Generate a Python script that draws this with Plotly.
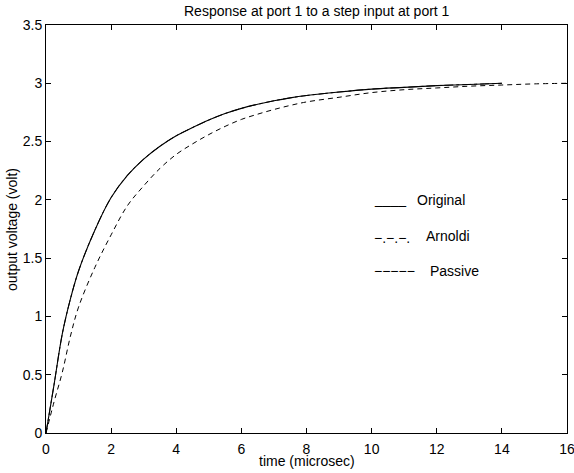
import plotly.graph_objects as go

# time axis (microsec)
t_orig = [0, 0.25, 0.5, 0.75, 1.0, 1.5, 2.0, 2.5, 3.0, 3.5, 4.0, 4.5, 5.0, 5.5, 6.0, 6.5,
          7.0, 7.5, 8.0, 9.0, 10.0, 11.0, 12.0, 13.0, 14.0]
v_orig = [0, 0.42, 0.85, 1.15, 1.39, 1.74, 2.02, 2.21, 2.35, 2.46, 2.55, 2.62, 2.685, 2.74, 2.785, 2.82,
          2.85, 2.875, 2.895, 2.925, 2.95, 2.965, 2.98, 2.99, 3.0]

t_arnoldi = t_orig
v_arnoldi = v_orig

t_passive = [0, 0.25, 0.5, 0.75, 1.0, 1.5, 2.0, 2.5, 3.0, 3.5, 4.0, 4.5, 5.0, 5.5, 6.0, 6.5,
             7.0, 7.5, 8.0, 9.0, 10.0, 11.0, 12.0, 13.0, 14.0, 15.0, 16.0]
v_passive = [0, 0.27, 0.52, 0.83, 1.08, 1.42, 1.70, 1.95, 2.12, 2.27, 2.39, 2.48, 2.56, 2.63, 2.69, 2.735,
             2.775, 2.81, 2.84, 2.88, 2.92, 2.945, 2.96, 2.975, 2.985, 2.995, 3.0]

x_ticks = [0, 2, 4, 6, 8, 10, 12, 14, 16]
y_ticks = [0, 0.5, 1, 1.5, 2, 2.5, 3, 3.5]

FONT = "Liberation Sans, Arial, sans-serif"
FS = 14

W, H = 574, 473
L, R, T, B = 46, 7, 25, 40
PW, PH = W - L - R, H - T - B


def px(x):  # page pixel -> paper
    return (x - L) / PW


def py(y):  # page pixel -> paper
    return (H - B - y) / PH


fig = go.Figure()
fig.add_trace(go.Scatter(x=t_arnoldi, y=v_arnoldi, mode="lines", name="Arnoldi",
                         line=dict(color="black", width=1, dash="dashdot", shape="spline")))
fig.add_trace(go.Scatter(x=t_passive, y=v_passive, mode="lines", name="Passive",
                         line=dict(color="black", width=1, dash="5px,4px", shape="spline")))
fig.add_trace(go.Scatter(x=t_orig, y=v_orig, mode="lines", name="Original",
                         line=dict(color="black", width=1.1, shape="spline")))

axis_common = dict(showgrid=False, zeroline=False, showline=True, linecolor="black",
                   linewidth=1, mirror="ticks", ticks="inside", ticklen=5,
                   tickcolor="black", tickwidth=1, ticklabeloverflow="allow",
                   automargin=False,
                   tickfont=dict(family=FONT, size=FS, color="black"))

fig.update_xaxes(range=[0, 16], tickvals=x_ticks, ticktext=[str(v) for v in x_ticks],
                 ticklabelstandoff=3, **axis_common)
fig.update_yaxes(range=[0, 3.5], tickvals=y_ticks, ticktext=[f"{v:g}" for v in y_ticks],
                 **axis_common)

MINUS = "\u2212"
annotations = [
    dict(text="Response at port 1 to a step input at port 1", x=px(317), y=py(11)),
    dict(text="time (microsec)", x=px(307), y=py(461)),
    dict(text="output voltage (volt)", x=px(12), y=py(230), textangle=-90),
    dict(text="____", x=px(372), y=py(199), xanchor="left"),
    dict(text="Original", x=px(415), y=py(200), xanchor="left"),
    dict(text=(MINUS + ".") * 3, x=px(372), y=py(238), xanchor="left"),
    dict(text="Arnoldi", x=px(424), y=py(236), xanchor="left"),
    dict(text=MINUS * 5, x=px(372), y=py(271), xanchor="left"),
    dict(text="Passive", x=px(428), y=py(271), xanchor="left"),
]
for a in annotations:
    a.setdefault("xanchor", "center")
    a.update(xref="paper", yref="paper", yanchor="middle", showarrow=False,
             font=dict(family=FONT, size=FS, color="black"))

fig.update_layout(
    width=W, height=H,
    margin=dict(l=L, r=R, t=T, b=B, autoexpand=False),
    paper_bgcolor="white", plot_bgcolor="white",
    showlegend=False,
    annotations=annotations,
    font=dict(family=FONT, size=FS, color="black"),
)

fig.write_html("out.html", config={"displayModeBar": False},
               post_script="document.body.style.margin='0';document.body.style.overflow='hidden';")
